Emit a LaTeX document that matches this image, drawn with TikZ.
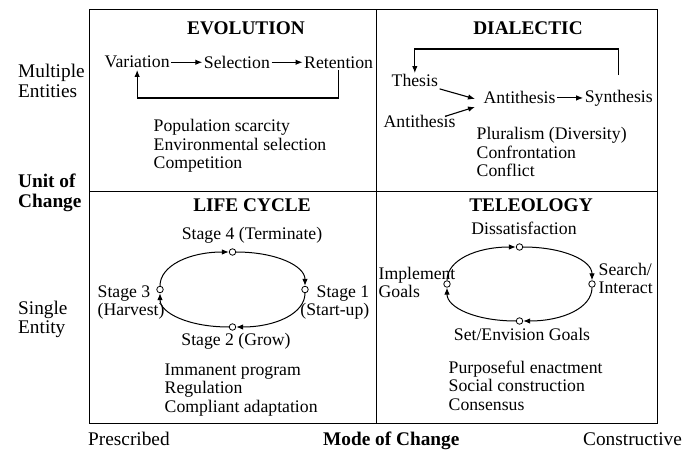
\documentclass[tikz,border=0pt]{standalone}
\usepackage{fontspec}
\setmainfont{Liberation Serif}
\usetikzlibrary{positioning,arrows.meta}

\begin{document}
\begin{tikzpicture}[x=1pt, y=1pt, node distance=30pt,
    txt/.style = {inner sep=1.5pt, font=\fontsize{17.7}{18.5}\selectfont},
    lst/.style = {txt, anchor=base west, align=left},
    ttl/.style = {inner sep=0pt, anchor=base, font=\fontsize{19.3}{20}\selectfont\bfseries},
    side/.style = {inner sep=0pt, anchor=base west, align=left, font=\fontsize{19.3}{19.5}\selectfont},
    sideb/.style = {side, font=\fontsize{19.3}{20}\selectfont\bfseries},
    dot/.style = {draw, circle, fill=white, inner sep=0pt, minimum size=6.5pt, line width=0.8pt},
    arr/.style = {-{Latex[length=7pt,width=5.5pt]}, line width=1.1pt},
    cyc/.style = {arr, line width=1pt}]
  \useasboundingbox (0,0) rectangle (698,450);

  % frame
  \draw[line width=1pt] (89,27) rectangle (657,440);
  \draw[line width=1pt] (376,27) -- (376,440);
  \draw[line width=1pt] (89,258) -- (657,258);

  % axes (multi-line nodes sit on their last line)
  \node[side] (multi) at (18,352.5) {Multiple\\Entities};
  \node[sideb] (unit) at (18,242) {Unit of\\Change};
  \node[side] (single) at (18,116.5) {Single\\Entity};
  \node[side] (pres) at (88,5) {Prescribed};
  \node[sideb] (mode) at (323,5) {Mode of Change};
  \node[side] (cons) at (583,5) {Constructive};

  % evolution
  \node[ttl] (evo) at (246,415) {EVOLUTION};
  \node[txt, anchor=base west] (var) at (103,382) {Variation};
  \node[txt] (sel) [right=31pt of var] {Selection};
  \node[txt] (ret) [right=31pt of sel] {Retention};
  \draw[arr] (var) -- (sel);
  \draw[arr] (sel) -- (ret);
  \coordinate (loop1) at (0,352);
  \draw[arr] (ret.south) -- (ret.south |- loop1) -- (var.south |- loop1) -- (var.south);
  \node[lst] (evolist) at (152,281) {Population scarcity\\Environmental selection\\Competition};

  % dialectic
  \node[ttl] (dia) at (528,415) {DIALECTIC};
  \node[txt, anchor=base west] (thesis) at (390,363) {Thesis};
  \node[txt, anchor=base west] (anti1) at (382,322) {Antithesis};
  \node[txt, anchor=base west] (anti2) at (482,346) {Antithesis};
  \node[txt] (syn) [right=26pt of anti2] {Synthesis};
  \draw[arr] (anti2) -- (syn);
  \draw[arr] (thesis.south east) -- ([xshift=-7pt,yshift=-1pt]anti2.west);
  \draw[arr] ([xshift=-11pt,yshift=-2pt]anti1.north east) -- ([xshift=-7pt,yshift=-9pt]anti2.west);
  \coordinate (loop2) at (0,401);
  \draw[arr] ([yshift=13pt]syn.north) |- (thesis.north |- loop2) -- (thesis.north);
  \node[lst] (dialist) at (475,273) {Pluralism (Diversity)\\Confrontation\\Conflict};

  % life cycle
  \node[ttl] (lc) at (252,238) {LIFE CYCLE};
  \node[txt, anchor=base] (l4) at (252,210) {Stage 4 (Terminate)};
  \node[txt, anchor=base east, align=right] (l1) at (371,134.5) {Stage 1\\(Start-up)};
  \node[txt, anchor=base west, align=left] (l3) at (96,134.5) {Stage 3\\(Harvest)};
  \node[txt, anchor=base] (l2) at (236,105) {Stage 2 (Grow)};
  \node[dot] (s4) at (232.5,198) {};
  \node[dot] (s1) at (305,160.5) {};
  \node[dot] (s2) at (232.5,123) {};
  \node[dot] (s3) at (160,160.5) {};
  \draw[cyc] (s4) to[out=0, in=90, out distance=40pt, in distance=20pt] (s1);
  \draw[cyc] (s1) to[out=-90, in=0, out distance=20pt, in distance=40pt] (s2);
  \draw[cyc] (s2) to[out=180, in=-90, out distance=40pt, in distance=20pt] (s3);
  \draw[cyc] (s3) to[out=90, in=180, out distance=20pt, in distance=40pt] (s4);
  \node[lst] (lclist) at (163,38) {Immanent program\\Regulation\\Compliant adaptation};

  % teleology
  \node[ttl] (tel) at (531,238) {TELEOLOGY};
  \node[txt, anchor=base] (ldis) at (524,215) {Dissatisfaction};
  \node[txt, anchor=base west, align=left] (lsrch) at (597,156.5) {Search/\\Interact};
  \node[txt, anchor=base west, align=left] (limpl) at (377,152.5) {Implement\\Goals};
  \node[txt, anchor=base] (lset) at (522,110) {Set/Envision Goals};
  \node[dot] (dis) at (519.5,203) {};
  \node[dot] (srch) at (592,166) {};
  \node[dot] (set) at (519.5,129) {};
  \node[dot] (impl) at (447,166) {};
  \draw[cyc] (dis) to[out=0, in=90, out distance=40pt, in distance=20pt] (srch);
  \draw[cyc] (srch) to[out=-90, in=0, out distance=20pt, in distance=40pt] (set);
  \draw[cyc] (set) to[out=180, in=-90, out distance=40pt, in distance=20pt] (impl);
  \draw[cyc] (impl) to[out=90, in=180, out distance=20pt, in distance=40pt] (dis);
  \node[lst] (tellist) at (447,40) {Purposeful enactment\\Social construction\\Consensus};
\end{tikzpicture}
\end{document}
